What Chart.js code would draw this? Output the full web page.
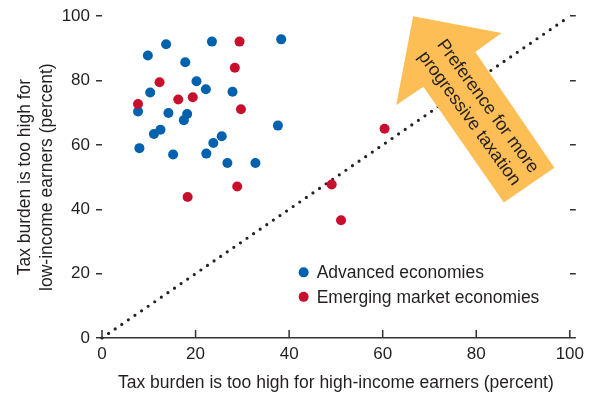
<!DOCTYPE html>
<html>
<head>
<meta charset="utf-8">
<script src="https://cdn.jsdelivr.net/npm/chart.js@4/dist/chart.umd.min.js"></script>
<style>
  html, body { margin: 0; padding: 0; background: #fff; }
  #wrap { width: 590px; height: 397px; }
</style>
</head>
<body>
<div id="wrap"><canvas id="chart" width="590" height="397"></canvas></div>
<script>
var FONT = "'Liberation Sans', Arial, sans-serif";
var INK = '#231f20';

// survey shares, percent of respondents
var seriesNames = ['Advanced economies', 'Emerging market economies'];
var advancedHigh = [13.7, 23.5, 38.3, 9.8, 17.8, 20.2, 10.3, 22.2, 27.9, 7.7, 14.2, 18.2,
  17.5, 37.6, 12.5, 11.1, 25.6, 23.8, 8.0, 15.2, 22.3, 26.8, 32.8];
var advancedLow = [91.3, 92.1, 92.8, 87.8, 85.7, 79.8, 76.3, 77.3, 76.5, 70.4, 69.9, 69.6,
  67.7, 66.0, 64.7, 63.4, 62.7, 60.6, 59.0, 57.0, 57.3, 54.4, 54.4];
var emergingHigh = [29.4, 28.4, 12.3, 7.7, 16.3, 19.4, 29.7, 28.9, 18.3, 60.4, 49.1, 51.1];
var emergingLow = [92.1, 84.0, 79.5, 72.7, 74.1, 74.8, 71.1, 47.1, 43.8, 65.0, 47.7, 36.6];
var parityLine = [0, 100];
var tickValues = [0, 20, 40, 60, 80, 100];

var xTitle = 'Tax burden is too high for high-income earners (percent)';
var yTitle = ['Tax burden is too high for', 'low-income earners (percent)'];
var arrowText = ['Preference for more', 'progressive taxation'];

function toPoints(xs, ys) {
  return xs.map(function (x, i) { return { x: x, y: ys[i] }; });
}

// big arrow pointing towards the upper-left of the 45-degree line
var arrowPlugin = {
  id: 'arrow',
  afterDatasetsDraw: function (chart) {
    var ctx = chart.ctx, sx = chart.scales.x, sy = chart.scales.y;
    var shape = [[66.5, 100], [85.4, 94.8], [79.8, 88.9], [96.7, 52.9],
      [85.9, 42.1], [68.7, 78.1], [62.9, 72.4]];
    ctx.save();
    ctx.fillStyle = '#fdbe56';
    ctx.beginPath();
    shape.forEach(function (p, i) {
      var px = sx.getPixelForValue(p[0]), py = sy.getPixelForValue(p[1]);
      if (i === 0) ctx.moveTo(px, py); else ctx.lineTo(px, py);
    });
    ctx.closePath();
    ctx.fill();

    ctx.translate(sx.getPixelForValue(80.4), sy.getPixelForValue(70.2));
    ctx.rotate(54 * Math.PI / 180);
    ctx.fillStyle = INK;
    ctx.font = '18px ' + FONT;
    ctx.textAlign = 'center';
    ctx.textBaseline = 'middle';
    ctx.fillText(arrowText[0], 1, -11);
    ctx.fillText(arrowText[1], 0, 11);
    ctx.restore();
  }
};

// x ticks point up into the plot, legend sits inside it
var decorPlugin = {
  id: 'decor',
  afterDraw: function (chart) {
    var ctx = chart.ctx, sx = chart.scales.x, sy = chart.scales.y;
    var bottom = chart.chartArea.bottom;
    ctx.save();
    ctx.strokeStyle = '#333';
    ctx.lineWidth = 1.5;
    sx.ticks.forEach(function (t, i) {
      var px = sx.getPixelForTick(i);
      ctx.beginPath();
      ctx.moveTo(px, bottom);
      ctx.lineTo(px, bottom - 8);
      ctx.stroke();
    });

    var lx = sx.getPixelForValue(43.1), ly = sy.getPixelForValue(20.4);
    ctx.font = '17.5px ' + FONT;
    ctx.textBaseline = 'middle';
    ctx.textAlign = 'left';
    [0, 1].forEach(function (k) {
      var ds = chart.data.datasets[k];
      var y = ly + k * 24.5;
      ctx.fillStyle = ds.backgroundColor;
      ctx.beginPath();
      ctx.arc(lx, y, 5, 0, Math.PI * 2);
      ctx.fill();
      ctx.fillStyle = INK;
      ctx.fillText(ds.label, lx + 13, y + 1);
    });
    ctx.restore();
  }
};

var tickOpts = {
  stepSize: 20,
  color: INK,
  font: { family: FONT, size: 17 }
};

new Chart(document.getElementById('chart'), {
  type: 'scatter',
  data: {
    datasets: [
      {
        label: seriesNames[0],
        data: toPoints(advancedHigh, advancedLow),
        backgroundColor: '#0062ae',
        borderWidth: 0,
        pointRadius: 5,
        order: 2
      },
      {
        label: seriesNames[1],
        data: toPoints(emergingHigh, emergingLow),
        backgroundColor: '#c8102e',
        borderWidth: 0,
        pointRadius: 5,
        order: 1
      },
      {
        label: 'parity',
        data: toPoints(parityLine, parityLine),
        showLine: true,
        pointRadius: 0,
        borderColor: '#222',
        borderWidth: 3.2,
        borderDash: [0, 8],
        borderCapStyle: 'round',
        clip: false,
        order: 3
      }
    ]
  },
  options: {
    responsive: false,
    animation: false,
    layout: { padding: { top: 14, left: 0, right: 0, bottom: 0 } },
    plugins: {
      legend: { display: false },
      tooltip: { enabled: false }
    },
    scales: {
      x: {
        min: 0, max: 100,
        afterFit: function (s) { s.height = 59; },
        ticks: Object.assign({ padding: 6 }, tickOpts),
        grid: { drawOnChartArea: false, drawTicks: false },
        border: { display: true, color: '#333', width: 1.5 },
        title: {
          display: true, text: xTitle, color: INK,
          font: { family: FONT, size: 17.5, lineHeight: 1.25 },
          padding: { top: 0, bottom: 3 }
        }
      },
      y: {
        min: 0, max: 100,
        afterFit: function (s) { s.width = 102; },
        ticks: Object.assign({ padding: 6 }, tickOpts),
        grid: { drawOnChartArea: false, drawTicks: true, tickLength: 6, color: '#333', lineWidth: 1.5 },
        border: { display: false },
        title: {
          display: true, text: yTitle, color: INK,
          font: { family: FONT, size: 17.5, lineHeight: 1.25 },
          padding: { top: 14, bottom: 0 }
        }
      },
      y2: {
        position: 'right',
        min: 0, max: 100,
        afterFit: function (s) { s.width = 17; },
        ticks: { stepSize: 20, display: false },
        grid: { drawOnChartArea: false, drawTicks: true, tickLength: 6, color: '#333', lineWidth: 1.5 },
        border: { display: false }
      }
    }
  },
  plugins: [arrowPlugin, decorPlugin]
});
</script>
</body>
</html>
